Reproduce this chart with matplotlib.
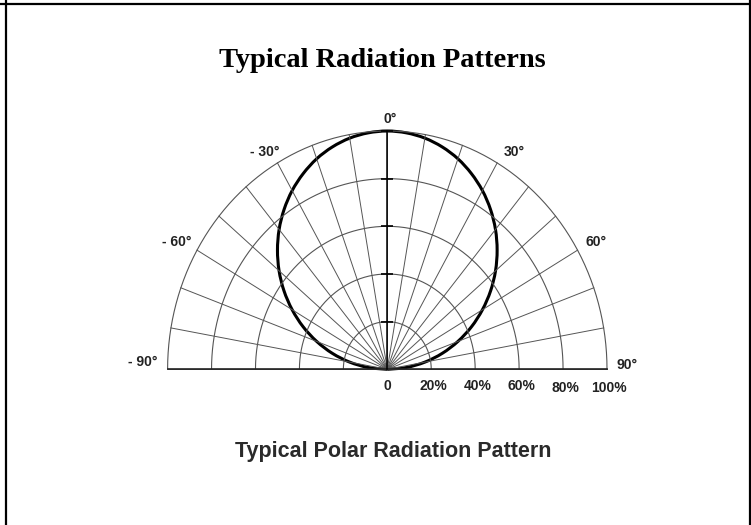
import numpy as np
import matplotlib
matplotlib.use("Agg")
import matplotlib.pyplot as plt
from matplotlib.lines import Line2D
from matplotlib.path import Path
from matplotlib.patches import PathPatch

# data: relative intensity vs angle (deg from axis)
angles = [-90, -85, -80, -75, -70, -65, -60, -55, -50, -45, -40, -35, -30, -25,
          -20, -15, -10, -5, 0, 5, 10, 15, 20, 25, 30, 35, 40, 45, 50, 55, 60,
          65, 70, 75, 80, 85, 90]
intensity = [0.000, 0.087, 0.174, 0.259, 0.342, 0.423, 0.500, 0.574, 0.643,
             0.707, 0.766, 0.819, 0.866, 0.906, 0.940, 0.966, 0.985, 0.996,
             1.000, 0.996, 0.985, 0.966, 0.940, 0.906, 0.866, 0.819, 0.766,
             0.707, 0.643, 0.574, 0.500, 0.423, 0.342, 0.259, 0.174, 0.087,
             0.000]

ring_levels = [0.2, 0.4, 0.6, 0.8, 1.0]
ring_labels = ["0", "20%", "40%", "60%", "80%", "100%"]
spoke_angles = list(range(-90, 91, 10))
angle_ticks = [0, -30, 30, -60, 60, -90, 90]
angle_texts = ["0°", "- 30°", "30°", "- 60°", "60°", "- 90°", "90°"]

title = "Typical Radiation Patterns"
caption = "Typical Polar Radiation Pattern"

# figure geometry (pixels)
W, H = 751, 525
cx, cy = 387.3, 369.3     # pattern origin
rx, ry = 219.7, 238.3     # 100% radius, horizontal / vertical

fig = plt.figure(figsize=(W / 100, H / 100), dpi=100)
ax = fig.add_axes([0, 0, 1, 1])
ax.set_xlim(-cx / rx, (W - cx) / rx)
ax.set_ylim((cy - H) / ry, cy / ry)
ax.axis("off")

# grid: rings
t = np.radians(np.linspace(-90, 90, 361))
for r in ring_levels:
    ax.plot(r * np.sin(t), r * np.cos(t), color="#555555", lw=0.8)

# grid: spokes
for a in spoke_angles:
    th = np.radians(a)
    ax.plot([0, np.sin(th)], [0, np.cos(th)], color="#555555", lw=0.7)

# axis lines
ax.plot([-1, 1], [0, 0], color="#222222", lw=1.2)
ax.plot([0, 0], [0, 1], color="black", lw=1.1)
ax.plot([0] * len(ring_levels), ring_levels, ls="none", marker="_",
        ms=9, mew=1.2, color="black")

# radiation pattern, drawn as a smooth bezier through the read points
th = np.radians(angles)
r = np.array(intensity)
pts = np.column_stack([r * np.sin(th), r * np.cos(th)])
verts = [pts[0]]
codes = [Path.MOVETO]
for i in range(len(pts) - 1):
    p0 = pts[max(i - 1, 0)]
    p1, p2 = pts[i], pts[i + 1]
    p3 = pts[min(i + 2, len(pts) - 1)]
    verts += [p1 + (p2 - p0) / 6, p2 - (p3 - p1) / 6, p2]
    codes += [Path.CURVE4] * 3
ax.add_patch(PathPatch(Path(verts, codes), fill=False, ec="black", lw=2.2))

# angle labels
lab_font = dict(family="Liberation Sans", fontsize=10, fontweight="bold",
                color="#222222")
lab_pos = {0: (390, 119), -30: (265, 152), 30: (514, 152), -60: (177, 242),
           60: (596, 242), -90: (143, 362), 90: (627, 365)}
for a, s in zip(angle_ticks, angle_texts):
    px, py = lab_pos[a]
    ax.text((px - cx) / rx, (cy - py) / ry, s, ha="center", va="center",
            **lab_font)

# radius labels
for i, s in enumerate(ring_labels):
    x = 0 if i == 0 else ring_levels[i - 1]
    yy = 386 if i < 4 else 388
    ax.text(x + (0.01 if i > 0 else 0), (cy - yy) / ry, s, ha="center",
            va="center", **lab_font)

# title and caption
fig.text(382.5 / W, 1 - 67 / H, title, ha="center", va="baseline",
         family="Liberation Serif", fontsize=20.5, fontweight="bold")
fig.text(393 / W, 1 - 457 / H, caption, ha="center", va="baseline",
         family="Liberation Sans", fontsize=15.5, fontweight="bold",
         color="#2a2a2a")

# cell border
for xs, ys in [([0, W], [4, 4]), ([6, 6], [0, H]), ([749.5, 749.5], [0, H])]:
    fig.add_artist(Line2D([x / W for x in xs], [1 - y / H for y in ys],
                          transform=fig.transFigure, color="black", lw=1.6))

fig.savefig("out.png", dpi=100)
